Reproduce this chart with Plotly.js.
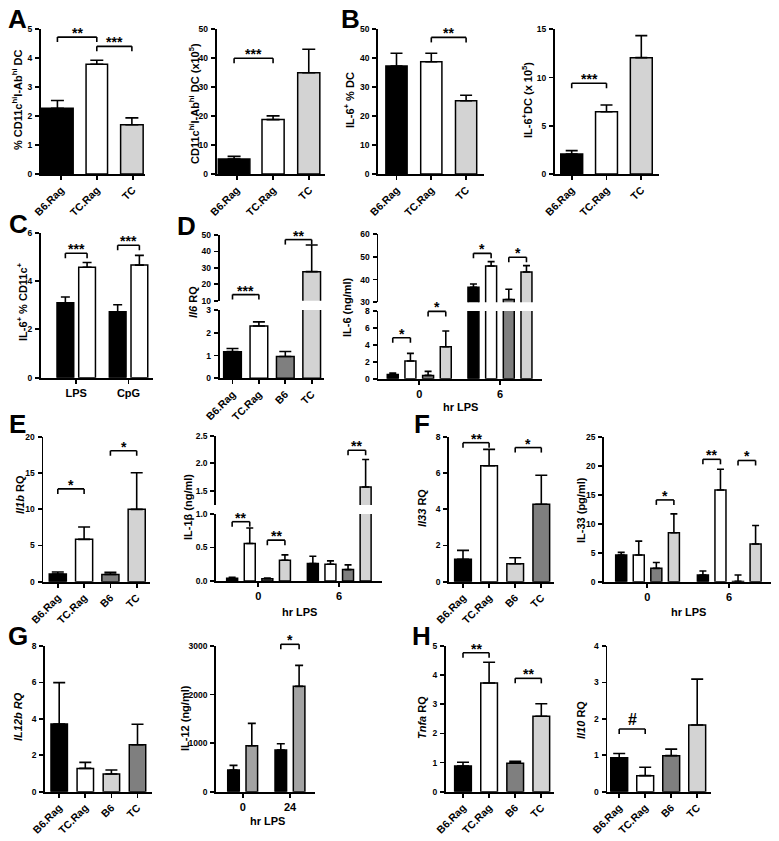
<!DOCTYPE html>
<html><head><meta charset="utf-8">
<script src="https://cdn.plot.ly/plotly-3.0.1.min.js"></script>
<style>html,body{margin:0;padding:0;background:#fff}#chart{width:779px;height:841px}</style>
</head><body><div id="chart"></div>
<script>
const W = 779, H = 841;
const FONT = 'Liberation Sans, Arial, Helvetica, sans-serif';
const K = '#000000', WT = '#ffffff', DG = '#7f7f7f', LG = '#d3d3d3', MG = '#a3a3a3';

// ---------- categories ----------
const dcCats = ['B6.Rag', 'TC.Rag', 'TC'];
const strainCats = ['B6.Rag', 'TC.Rag', 'B6', 'TC'];
const stimCats = ['LPS', 'CpG'];
const hrCats = ['0', '6'];
const hr24Cats = ['0', '24'];

// ---------- Panel A ----------
const dcPct = [2.27, 3.79, 1.70], dcPctSem = [0.27, 0.14, 0.24];
const dcNum = [5.2, 18.8, 35.0], dcNumSem = [0.9, 1.3, 8.1];
// ---------- Panel B ----------
const il6PctDC = [37.3, 38.8, 25.3], il6PctDCSem = [4.4, 2.9, 1.9];
const il6NumDC = [2.07, 6.46, 12.06], il6NumDCSem = [0.35, 0.70, 2.28];
// ---------- Panel C ----------
const il6Cd11cB6Rag = [3.10, 2.73], il6Cd11cB6RagSem = [0.24, 0.29];
const il6Cd11cTCRag = [4.57, 4.66], il6Cd11cTCRagSem = [0.20, 0.40];
// ---------- Panel D ----------
const il6RQ = [1.17, 2.30, 0.96, 27.7], il6RQSem = [0.14, 0.18, 0.22, 16.2];
const il6B6Rag = [0.51, 36.6], il6B6RagSem = [0.16, 1.45];
const il6TCRag = [2.09, 45.96], il6TCRagSem = [0.90, 1.90];
const il6B6 = [0.39, 31.2], il6B6Sem = [0.48, 4.5];
const il6TC = [3.78, 43.3], il6TCSem = [1.85, 2.8];
// ---------- Panel E ----------
const il1bRQ = [1.06, 5.84, 1.01, 9.98], il1bRQSem = [0.27, 1.70, 0.28, 5.05];
const il1bB6Rag = [0.04, 0.26], il1bB6RagSem = [0.015, 0.11];
const il1bTCRag = [0.56, 0.25], il1bTCRagSem = [0.23, 0.05];
const il1bB6 = [0.035, 0.17], il1bB6Sem = [0.01, 0.07];
const il1bTC = [0.31, 1.57], il1bTCSem = [0.08, 0.50];
// ---------- Panel F ----------
const il33RQ = [1.24, 6.40, 0.99, 4.27], il33RQSem = [0.49, 0.90, 0.33, 1.60];
const il33B6Rag = [4.6, 1.15], il33B6RagSem = [0.46, 0.69];
const il33TCRag = [4.6, 15.8], il33TCRagSem = [2.4, 3.6];
const il33B6 = [2.3, 0.05], il33B6Sem = [1.0, 1.1];
const il33TC = [8.45, 6.5], il33TCSem = [3.25, 3.2];
// ---------- Panel G ----------
const il12bRQ = [3.72, 1.28, 0.97, 2.58], il12bRQSem = [2.27, 0.33, 0.22, 1.12];
const il12Ctrl = [446, 858], il12CtrlSem = [96, 130];
const il12TC = [947, 2169], il12TCSem = [460, 433];
// ---------- Panel H ----------
const tnfaRQ = [0.88, 3.73, 0.98, 2.59], tnfaRQSem = [0.13, 0.71, 0.06, 0.43];
const il10RQ = [0.93, 0.44, 0.99, 1.83], il10RQSem = [0.12, 0.23, 0.18, 1.26];

// ---------- significance marks: panel, [cat,series], [cat,series], level, segment, label ----------
const sigMarks = [
  ['A1', [0,0], [1,0], 4.73, 0, '**'],
  ['A1', [1,0], [2,0], 4.41, 0, '***'],
  ['A2', [0,0], [1,0], 40.0, 0, '***'],
  ['B1', [1,0], [2,0], 47.2, 0, '**'],
  ['B2', [0,0], [1,0], 9.4, 0, '***'],
  ['C',  [0,0], [0,1], 5.15, 0, '***'],
  ['C',  [1,0], [1,1], 5.48, 0, '***'],
  ['D1', [0,0], [1,0], 13.7, 1, '***'],
  ['D1', [2,0], [3,0], 47.2, 1, '**'],
  ['D2', [0,0], [0,1], 4.84, 0, '*'],
  ['D2', [0,2], [0,3], 7.95, 0, '*'],
  ['D2', [1,0], [1,1], 51.5, 1, '*'],
  ['D2', [1,2], [1,3], 49.8, 1, '*'],
  ['E1', [0,0], [1,0], 12.8, 0, '*'],
  ['E1', [2,0], [3,0], 18.07, 0, '*'],
  ['E2', [0,0], [0,1], 0.885, 0, '**'],
  ['E2', [0,2], [0,3], 0.61, 0, '**'],
  ['E2', [1,2], [1,3], 2.24, 1, '**'],
  ['F1', [0,0], [1,0], 7.67, 0, '**'],
  ['F1', [2,0], [3,0], 7.4, 0, '*'],
  ['F2', [0,2], [0,3], 14.1, 0, '*'],
  ['F2', [1,0], [1,1], 21.1, 0, '**'],
  ['F2', [1,2], [1,3], 20.9, 0, '*'],
  ['G2', [1,0], [1,1], 3035, 0, '*'],
  ['H1', [0,0], [1,0], 4.77, 0, '**'],
  ['H1', [2,0], [3,0], 3.89, 0, '**'],
  ['H2', [0,0], [1,0], 1.72, 0, '#']
];

// ---------- panel geometry (pixels) ----------
const panels = {
  A1: {xl:40.7, xr:145, t0:61, step:35.8, cats:dcCats, angle:-45, cap:6.5,
       segs:[{top:29.3, bot:174, range:[0,5], dtick:1}],
       series:[{y:dcPct, sem:dcPctSem, color:[K,WT,LG]}],
       widths:[0.88,0.6,0.63], offsets:[-0.54,-0.3,-0.335]},
  A2: {xl:216.5, xr:325, t0:236.7, step:36.3, cats:dcCats, angle:-45, cap:6.5,
       segs:[{top:29.3, bot:174, range:[0,50], dtick:10}],
       series:[{y:dcNum, sem:dcNumSem, color:[K,WT,LG]}],
       widths:[0.87,0.61,0.61], offsets:[-0.507,-0.303,-0.32]},
  B1: {xl:378, xr:484, t0:396.5, step:34.8, cats:dcCats, angle:-45, cap:6,
       segs:[{top:29.3, bot:174, range:[0,50], dtick:10}],
       series:[{y:il6PctDC, sem:il6PctDCSem, color:[K,WT,LG]}], w:0.61},
  B2: {xl:554.7, xr:659, t0:571.7, step:34.8, cats:dcCats, angle:-45, cap:6,
       segs:[{top:29.3, bot:174, range:[0,15], dtick:5}],
       series:[{y:il6NumDC, sem:il6NumDCSem, color:[K,WT,LG]}], w:0.63},
  C:  {xl:40.7, xr:153.3, t0:76.2, step:52.3, cats:stimCats, angle:0, cap:4.5,
       segs:[{top:232.7, bot:377.7, range:[0,6], dtick:2}],
       series:[{y:il6Cd11cB6Rag, sem:il6Cd11cB6RagSem, color:K},
               {y:il6Cd11cTCRag, sem:il6Cd11cTCRagSem, color:WT}],
       grp:{off0:-0.367, pitch:0.415, w:0.32}},
  D1: {xl:219.5, xr:324, t0:232.5, step:26.4, cats:strainCats, angle:-45, cap:6,
       segs:[{top:310, bot:378.3, range:[0,3], dtick:1},
             {top:235, bot:300.7, range:[10,50], dtick:10}],
       series:[{y:il6RQ, sem:il6RQSem, color:[K,WT,DG,LG]}], w:0.67},
  D2: {xl:378.3, xr:541.7, t0:419.3, step:80.7, cats:hrCats, angle:0, cap:3.5,
       segs:[{top:311, bot:378.7, range:[0,8], dtick:2},
             {top:234, bot:302.3, range:[30,60], dtick:10}],
       series:[{y:il6B6Rag, sem:il6B6RagSem, color:K}, {y:il6TCRag, sem:il6TCRagSem, color:WT},
               {y:il6B6, sem:il6B6Sem, color:DG}, {y:il6TC, sem:il6TCSem, color:LG}],
       grp:{off0:-0.397, pitch:0.219, w:0.136}},
  E1: {xl:43.3, xr:150, t0:57.8, step:26.3, cats:strainCats, angle:-45, cap:6,
       segs:[{top:436.7, bot:581.7, range:[0,20], dtick:5}],
       series:[{y:il1bRQ, sem:il1bRQSem, color:[K,WT,DG,LG]}], w:0.65},
  E2: {xl:216, xr:381.7, t0:258.3, step:80.7, cats:hrCats, angle:0, cap:3.5,
       segs:[{top:514, bot:581, range:[0,1], dtick:0.5, fmt:'.1f'},
             {top:436, bot:505, range:[1.24,2.5], dtick:0.5, fmt:'.1f'}],
       series:[{y:il1bB6Rag, sem:il1bB6RagSem, color:K}, {y:il1bTCRag, sem:il1bTCRagSem, color:WT},
               {y:il1bB6, sem:il1bB6Sem, color:DG}, {y:il1bTC, sem:il1bTCSem, color:LG}],
       grp:{off0:-0.392, pitch:0.218, w:0.136}},
  F1: {xl:449, xr:554, t0:463, step:26.1, cats:strainCats, angle:-45, cap:6,
       segs:[{top:436.7, bot:581.7, range:[0,8], dtick:2}],
       series:[{y:il33RQ, sem:il33RQSem, color:[K,WT,LG,DG]}], w:0.64},
  F2: {xl:604, xr:770.7, t0:647.3, step:81.7, cats:hrCats, angle:0, cap:3.5,
       segs:[{top:436.7, bot:581.7, range:[0,25], dtick:5}],
       series:[{y:il33B6Rag, sem:il33B6RagSem, color:K}, {y:il33TCRag, sem:il33TCRagSem, color:WT},
               {y:il33B6, sem:il33B6Sem, color:DG}, {y:il33TC, sem:il33TCSem, color:LG}],
       grp:{off0:-0.387, pitch:0.215, w:0.135}},
  G1: {xl:45, xr:151.7, t0:59.2, step:26.1, cats:strainCats, angle:-45, cap:6,
       segs:[{top:646, bot:791.7, range:[0,8], dtick:2}],
       series:[{y:il12bRQ, sem:il12bRQSem, color:[K,WT,LG,DG]}], w:0.63},
  G2: {xl:216, xr:315, t0:242.7, step:47.3, cats:hr24Cats, angle:0, cap:4,
       segs:[{top:646, bot:791.7, range:[0,3000], dtick:1000}],
       series:[{y:il12Ctrl, sem:il12CtrlSem, color:K}, {y:il12TC, sem:il12TCSem, color:MG}],
       grp:{off0:-0.317, pitch:0.387, w:0.245}},
  H1: {xl:445.7, xr:554, t0:463, step:26.1, cats:strainCats, angle:-45, cap:6,
       segs:[{top:646, bot:791.7, range:[0,5], dtick:1}],
       series:[{y:tnfaRQ, sem:tnfaRQSem, color:[K,WT,DG,LG]}], w:0.64},
  H2: {xl:607.3, xr:710.7, t0:619.2, step:26.0, cats:strainCats, angle:-45, cap:6,
       segs:[{top:646, bot:791.7, range:[0,4], dtick:1}],
       series:[{y:il10RQ, sem:il10RQSem, color:[K,WT,DG,LG]}], w:0.65}
};

// ---------- text labels ----------
const yTitles = [
  ['A1', '% CD11c<sup>hi</sup>I-Ab<sup>hi</sup> DC', 17, 100],
  ['A2', 'CD11c<sup>hi</sup>I-Ab<sup>hi</sup> DC (x10<sup>5</sup>)', 194, 104],
  ['B1', 'IL-6<sup>+</sup> % DC', 349, 100],
  ['B2', 'IL-6<sup>+</sup>DC (x 10<sup>5</sup>)', 527, 100],
  ['C',  'IL-6<sup>+</sup> % CD11c<sup>+</sup>', 22, 302],
  ['D1', '<i>Il6</i> RQ', 193, 302],
  ['D2', 'IL-6 (ng/ml)', 347, 307],
  ['E1', '<i>Il1b</i> RQ', 20, 495],
  ['E2', 'IL-1β (ng/ml)', 188, 507],
  ['F1', '<i>Il33</i> RQ', 422, 508],
  ['F2', 'IL-33 (pg/ml)', 581, 510],
  ['G1', '<i>IL12b RQ</i>', 18, 717],
  ['G2', 'IL-12 (ng/ml)', 185, 718],
  ['H1', '<i>Tnfa</i> RQ', 422, 718],
  ['H2', '<i>Il10</i> RQ', 581, 720]
];
const xTitles = [['hr LPS', 460, 407], ['hr LPS', 299, 612], ['hr LPS', 688, 612], ['hr LPS', 267, 821]];
const panelLetters = [['A',17,19],['B',350,19],['C',18,224],['D',186,226],['E',17,424],['F',422,424],['G',18,636],['H',421,636]];

// ---------- build ----------
function yDom(top, bot) { return [1 - bot / H, 1 - top / H]; }
function yPaper(p, seg, v) {
  const s = p.segs[seg], d = yDom(s.top, s.bot);
  return d[0] + (v - s.range[0]) / (s.range[1] - s.range[0]) * (d[1] - d[0]);
}
function barCenter(p, i, j) {
  if (p.grp) return i + p.grp.off0 + j * p.grp.pitch + p.grp.w / 2;
  const w = p.widths ? p.widths[i] : p.w;
  const o = p.offsets ? p.offsets[i] : -p.w / 2;
  return i + o + w / 2;
}

const data = [], shapes = [], annotations = [];
const layout = {
  width: W, height: H, margin: {l:0, r:0, t:0, b:0},
  paper_bgcolor: '#ffffff', plot_bgcolor: 'rgba(0,0,0,0)',
  showlegend: false, barmode: 'overlay',
  font: {family: FONT, color: K}
};
const lineStyle = {showline:true, linewidth:1.8, linecolor:K, ticks:'outside', ticklen:4,
                   tickwidth:1.8, tickcolor:K, showgrid:false, zeroline:false, fixedrange:true};

let xn = 0, yn = 0;
Object.keys(panels).forEach(key => {
  const p = panels[key];
  xn++;
  const xs = xn > 1 ? String(xn) : '';
  p.xid = 'x' + xs; p.yids = [];
  p.segs.forEach(s => {
    yn++;
    const ys = yn > 1 ? String(yn) : '';
    p.yids.push('y' + ys);
    layout['yaxis' + ys] = Object.assign({}, lineStyle, {
      domain: yDom(s.top, s.bot), range: s.range, dtick: s.dtick, tick0: 0,
      tickformat: s.fmt || '', anchor: p.xid, ticklabelstandoff: 1,
      tickfont: {family: FONT, size: 8.5, color: K, weight: 'bold'}
    });
  });
  layout['xaxis' + xs] = Object.assign({}, lineStyle, {
    domain: [p.xl / W, p.xr / W],
    range: [(p.xl - p.t0) / p.step, (p.xr - p.t0) / p.step],
    type: 'category', categoryorder: 'array', categoryarray: p.cats,
    anchor: p.yids[0], tickangle: p.angle,
    tickfont: {family: FONT, size: p.angle ? 10.5 : 11, color: K, weight: 'bold'}
  });
  p.yids.forEach(yid => {
    p.series.forEach((s, j) => {
      let width, offset;
      if (p.grp) { width = p.grp.w; offset = p.grp.off0 + j * p.grp.pitch; }
      else { width = p.widths || p.w; offset = p.offsets || -p.w / 2; }
      data.push({
        type: 'bar', x: p.cats, y: s.y, xaxis: p.xid, yaxis: yid,
        width: width, offset: offset,
        marker: {color: s.color, line: {color: K, width: 1.5}},
        error_y: {type: 'data', array: s.sem, arrayminus: s.sem.map(() => 0), symmetric: false,
                  color: K, thickness: 1.6, width: p.cap},
        hoverinfo: 'skip'
      });
    });
  });
});

sigMarks.forEach(([key, a, b, v, seg, txt]) => {
  const p = panels[key];
  const x1 = barCenter(p, a[0], a[1]), x2 = barCenter(p, b[0], b[1]);
  const yp = yPaper(p, seg, v), leg = 5 / H;
  const base = {type: 'line', xref: p.xid, yref: 'paper', line: {color: K, width: 1.6}};
  shapes.push(Object.assign({}, base, {x0: x1, x1: x2, y0: yp, y1: yp}));
  shapes.push(Object.assign({}, base, {x0: x1, x1: x1, y0: yp, y1: yp - leg}));
  shapes.push(Object.assign({}, base, {x0: x2, x1: x2, y0: yp, y1: yp - leg}));
  const isHash = txt === '#';
  annotations.push({xref: p.xid, yref: 'paper', x: (x1 + x2) / 2, y: yp, yanchor: 'bottom',
    yshift: isHash ? -1 : -6, text: '<b>' + txt + '</b>', showarrow: false,
    font: {family: FONT, size: isHash ? 16 : 14, color: K}});
});

yTitles.forEach(([key, txt, px, py]) => {
  annotations.push({xref: 'paper', yref: 'paper', x: px / W, y: 1 - py / H, xanchor: 'center', yanchor: 'middle',
    textangle: -90, text: '<b>' + txt + '</b>', showarrow: false, font: {family: FONT, size: 11, color: K}});
});
xTitles.forEach(([txt, px, py]) => {
  annotations.push({xref: 'paper', yref: 'paper', x: px / W, y: 1 - py / H, xanchor: 'center', yanchor: 'middle',
    text: '<b>' + txt + '</b>', showarrow: false, font: {family: FONT, size: 11, color: K}});
});
panelLetters.forEach(([txt, px, py]) => {
  annotations.push({xref: 'paper', yref: 'paper', x: px / W, y: 1 - py / H, xanchor: 'center', yanchor: 'middle',
    text: '<b>' + txt + '</b>', showarrow: false, font: {family: FONT, size: 26, color: K}});
});

layout.shapes = shapes;
layout.annotations = annotations;
Plotly.newPlot('chart', data, layout, {staticPlot: true, displayModeBar: false});
</script>
</body></html>
